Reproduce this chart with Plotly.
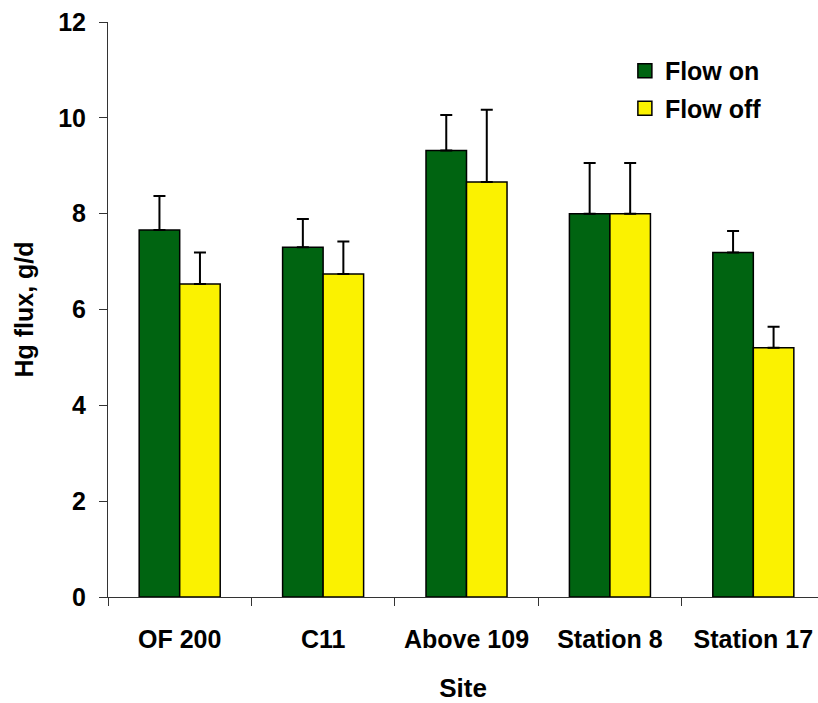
import plotly.graph_objects as go

sites = ["OF 200", "C11", "Above 109", "Station 8", "Station 17"]
flow_on = [7.66, 7.30, 9.32, 8.00, 7.19]
flow_on_err = [0.71, 0.59, 0.74, 1.06, 0.45]
flow_off = [6.53, 6.74, 8.66, 8.00, 5.20]
flow_off_err = [0.66, 0.68, 1.51, 1.06, 0.44]
y_ticks = [0, 2, 4, 6, 8, 10, 12]

FONT = "Arial, 'Liberation Sans', sans-serif"
GREEN = "#006411"
YELLOW = "#FBF200"

fig = go.Figure()
fig.add_trace(go.Bar(
    x=sites, y=flow_on, name="Flow on", showlegend=False,
    marker=dict(color=GREEN, line=dict(color="black", width=1.5)),
    error_y=dict(type="data", symmetric=False, array=flow_on_err,
                 arrayminus=[0] * len(flow_on), color="black", thickness=2, width=6),
))
fig.add_trace(go.Bar(
    x=sites, y=flow_off, name="Flow off", showlegend=False,
    marker=dict(color=YELLOW, line=dict(color="black", width=1.5)),
    error_y=dict(type="data", symmetric=False, array=flow_off_err,
                 arrayminus=[0] * len(flow_off), color="black", thickness=2, width=6),
))
# legend-only entries with larger square swatches
for name, col, grp in [("Flow on", GREEN, "on"), ("Flow off", YELLOW, "off")]:
    fig.add_trace(go.Scatter(
        x=[None], y=[None], mode="markers", name=name, legendgroup=grp,
        marker=dict(symbol="square", size=14, color=col, line=dict(color="black", width=1.5)),
    ))

fig.update_layout(
    width=818, height=703,
    margin=dict(l=108, r=0, t=22, b=106),
    paper_bgcolor="white", plot_bgcolor="white",
    barmode="group", bargap=0.435, bargroupgap=0,
    font=dict(family=FONT, color="black", size=25),
    showlegend=True,
    legend=dict(x=0.728, y=0.955, xanchor="left", yanchor="top",
                font=dict(family=FONT, size=25, color="black", weight="bold"),
                traceorder="grouped", tracegroupgap=2,
                bgcolor="rgba(0,0,0,0)", itemwidth=30),
    xaxis=dict(
        range=[-0.5, 4.451], tickson="boundaries", ticks="outside", ticklen=8,
        tickcolor="#333", tickwidth=1, showline=True, linecolor="#333", linewidth=1,
        showgrid=False, ticklabelstandoff=20,
        tickfont=dict(family=FONT, size=25, weight="bold"),
        title=dict(text="Site", font=dict(family=FONT, size=26, weight="bold"), standoff=30),
    ),
    yaxis=dict(
        range=[0, 12], tickvals=y_ticks, ticks="outside", ticklen=8,
        tickcolor="#333", tickwidth=1, showline=True, linecolor="#333", linewidth=1,
        showgrid=False, zeroline=False, ticklabelstandoff=8,
        tickfont=dict(family=FONT, size=25, weight="bold"),
        title=dict(text="Hg flux, g/d", font=dict(family=FONT, size=25, weight="bold"), standoff=17),
    ),
)

fig.write_html("out.html")
